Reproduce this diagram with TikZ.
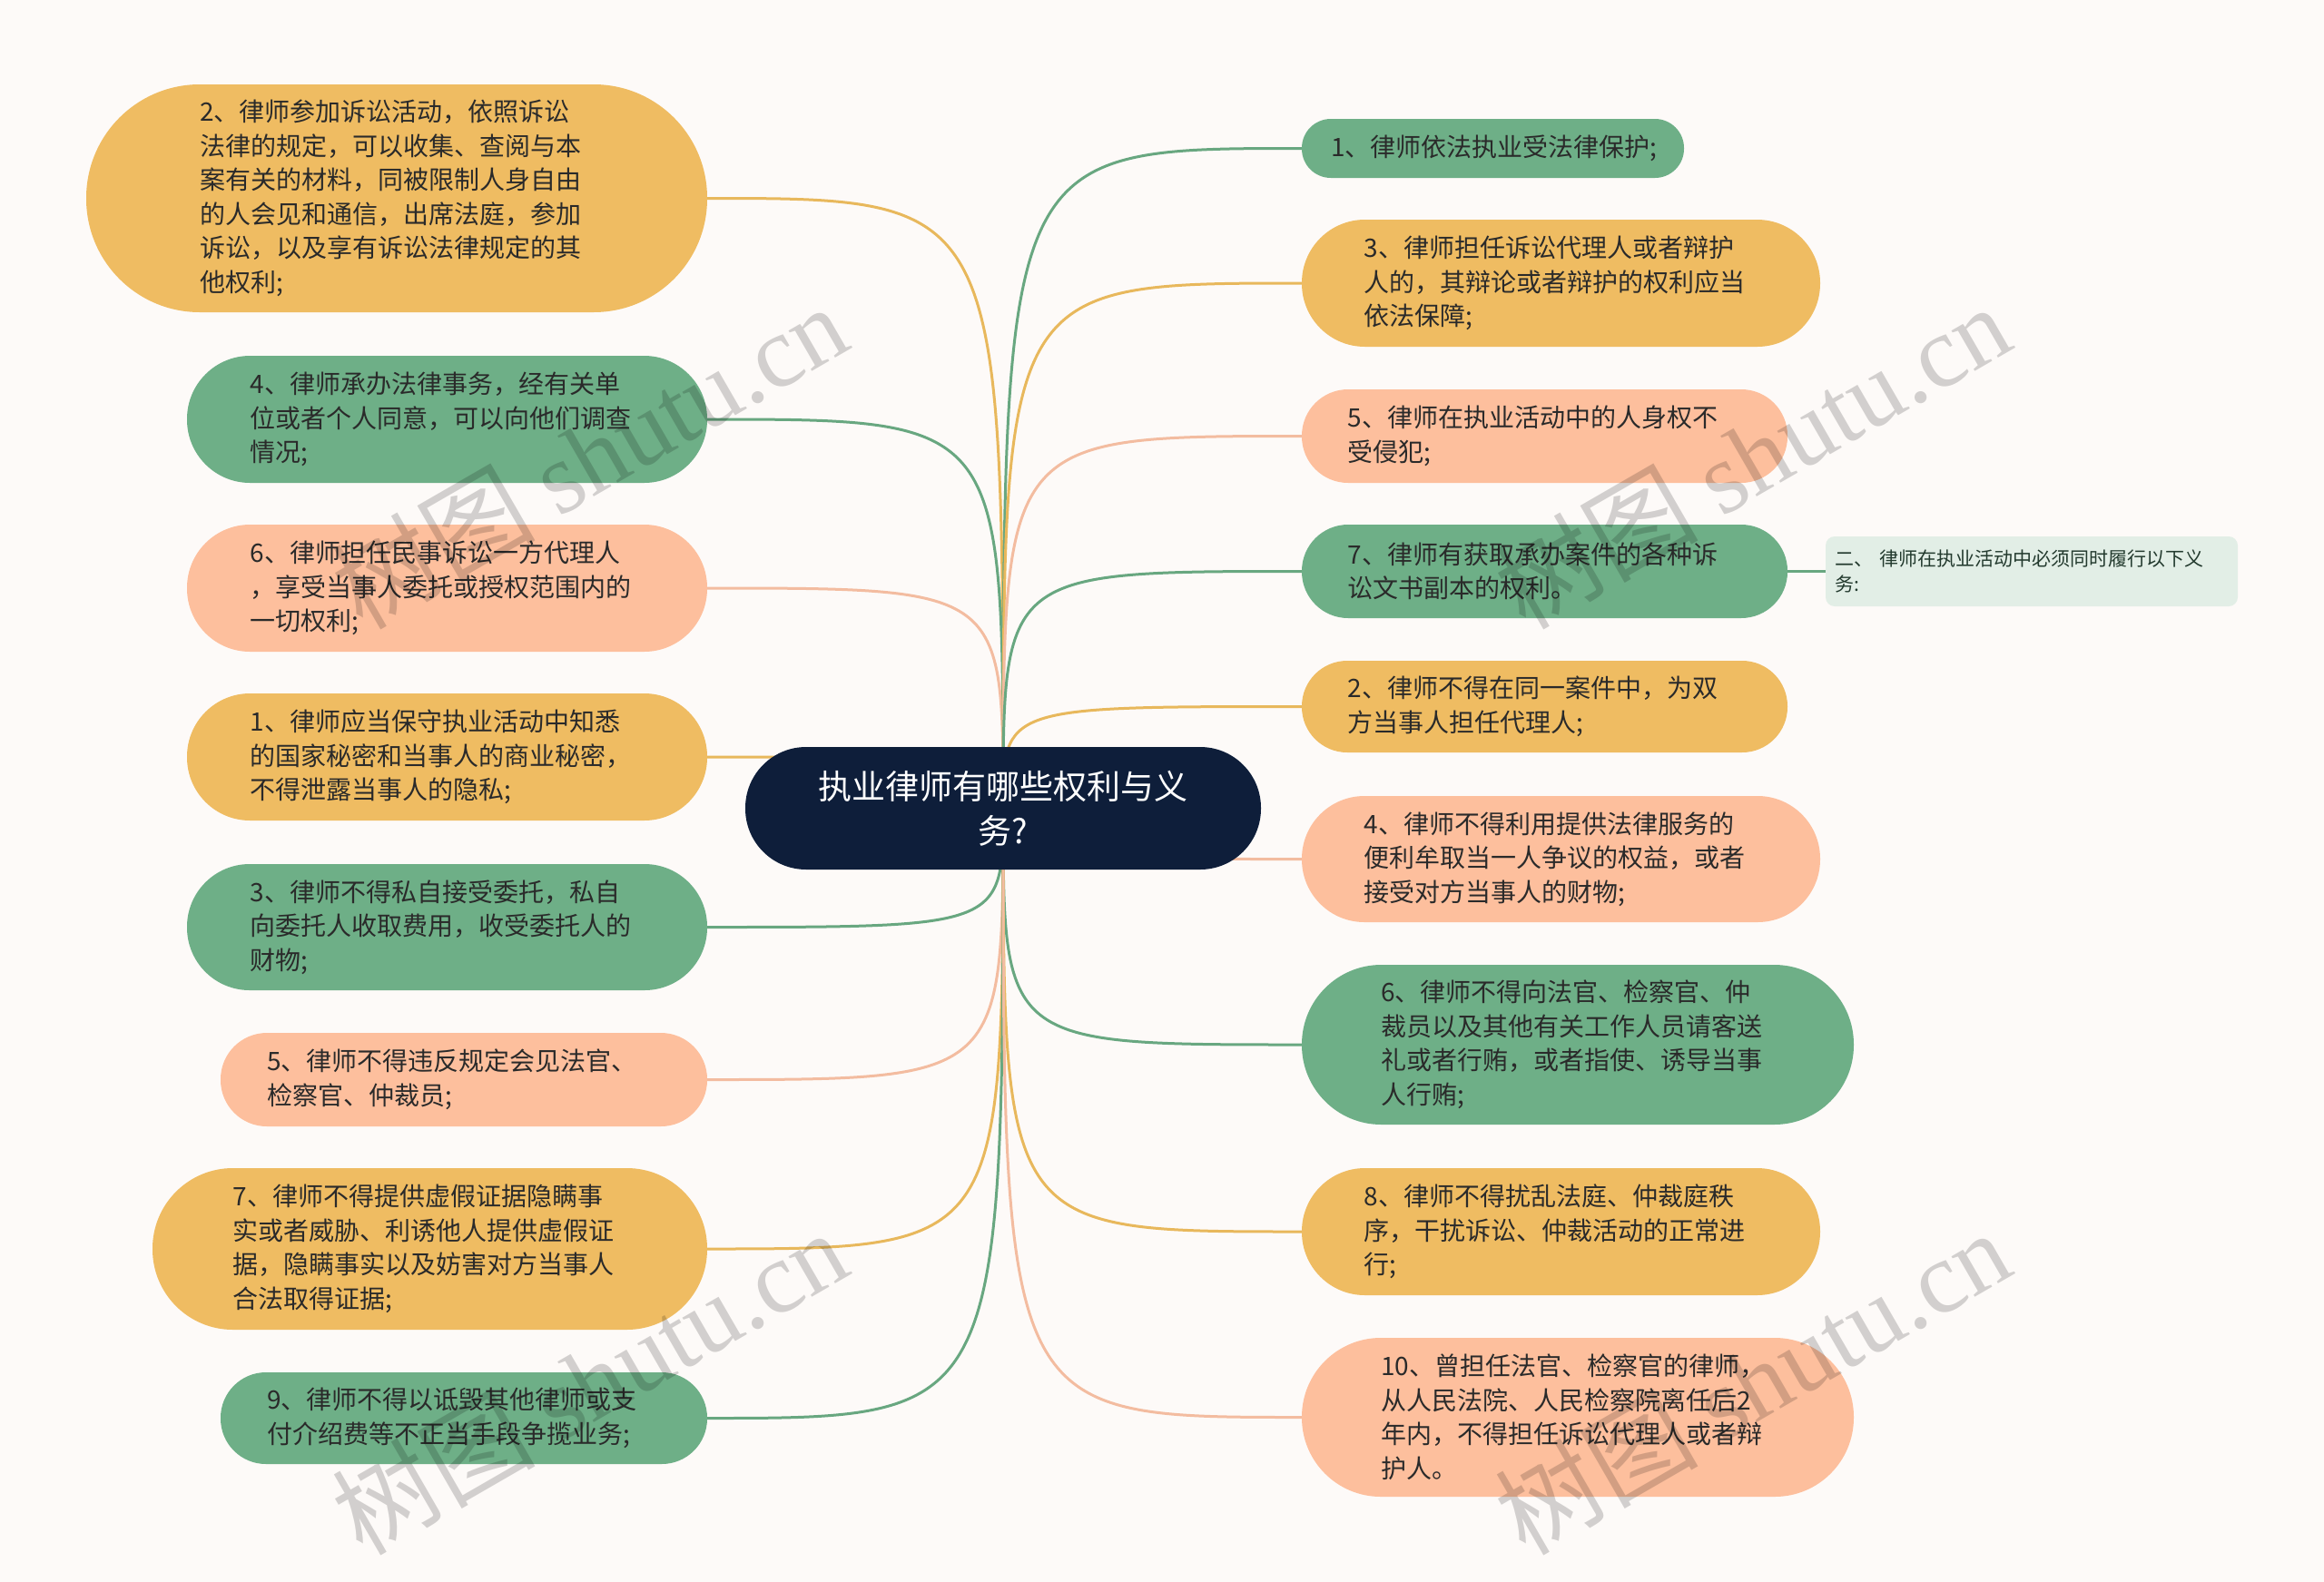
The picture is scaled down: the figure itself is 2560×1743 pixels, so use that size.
\documentclass[tikz,border=0pt]{standalone}
\usepackage{fontspec}
\setmainfont{Noto Sans CJK SC}
\newfontfamily\wmlatin{Liberation Serif}
\definecolor{bg}{HTML}{FDFAF8}
\definecolor{cyel}{HTML}{EFBC62}
\definecolor{cgrn}{HTML}{6EAF87}
\definecolor{csal}{HTML}{FDBF9D}
\definecolor{lyel}{HTML}{E8B85C}
\definecolor{lgrn}{HTML}{68A780}
\definecolor{lsal}{HTML}{F3BCA0}
\definecolor{navy}{HTML}{0E1E3A}
\definecolor{childbg}{HTML}{E2EEE6}
\definecolor{txt}{HTML}{2A2A2A}
\definecolor{childtxt}{HTML}{233A2E}
\tikzset{
  leaf/.style={inner sep=0pt, text width=434pt, align=left, text=txt,
    font=\fontsize{28}{37.5}\selectfont},
  fy/.style={fill=cyel}, fg/.style={fill=cgrn}, fs/.style={fill=csal},
  ey/.style={draw=lyel, line width=3pt},
  eg/.style={draw=lgrn, line width=3pt},
  es/.style={draw=lsal, line width=3pt},
  wmark/.style={text=black, text opacity=0.17, rotate=30,
    font=\fontsize{112}{112}\selectfont}
}
\begin{document}
\begin{tikzpicture}[x=1pt,y=-1pt]
\useasboundingbox[fill=bg] (0,0) rectangle (2560,1743);

% centre
\coordinate (O) at (1105,890.5);

% left leaves
\node[leaf, fy, minimum width=684, minimum height=251, rounded corners=125] (L1) at (437,218.5)
 {2、律师参加诉讼活动，依照诉讼\\法律的规定，可以收集、查阅与本\\案有关的材料，同被限制人身自由\\的人会见和通信，出席法庭，参加\\诉讼，以及享有诉讼法律规定的其\\他权利;};
\node[leaf, fg, minimum width=573, minimum height=140, rounded corners=69.5] (L2) at (492.5,462)
 {4、律师承办法律事务，经有关单\\位或者个人同意，可以向他们调查\\情况;};
\node[leaf, fs, minimum width=573, minimum height=140, rounded corners=69.5] (L3) at (492.5,648)
 {6、律师担任民事诉讼一方代理人\\，享受当事人委托或授权范围内的\\一切权利;};
\node[leaf, fy, minimum width=573, minimum height=140, rounded corners=69.5] (L4) at (492.5,834)
 {1、律师应当保守执业活动中知悉\\的国家秘密和当事人的商业秘密，\\不得泄露当事人的隐私;};
\node[leaf, fg, minimum width=573, minimum height=139, rounded corners=69] (L5) at (492.5,1021.5)
 {3、律师不得私自接受委托，私自\\向委托人收取费用，收受委托人的\\财物;};
\node[leaf, fs, minimum width=536, minimum height=103, rounded corners=51] (L6) at (511,1189.5)
 {5、律师不得违反规定会见法官、\\检察官、仲裁员;};
\node[leaf, fy, minimum width=611, minimum height=178, rounded corners=88.5] (L7) at (473.5,1376)
 {7、律师不得提供虚假证据隐瞒事\\实或者威胁、利诱他人提供虚假证\\据，隐瞒事实以及妨害对方当事人\\合法取得证据;};
\node[leaf, fg, minimum width=536, minimum height=101, rounded corners=50] (L8) at (511,1562.5)
 {9、律师不得以诋毁其他律师或支\\付介绍费等不正当手段争揽业务;};

% right leaves
\node[leaf, fg, text width=357pt, minimum width=421, minimum height=65, rounded corners=32] (R1) at (1644.5,163.5)
 {1、律师依法执业受法律保护;};
\node[leaf, fy, minimum width=571, minimum height=140, rounded corners=69.5] (R2) at (1719.5,312)
 {3、律师担任诉讼代理人或者辩护\\人的，其辩论或者辩护的权利应当\\依法保障;};
\node[leaf, fs, minimum width=535, minimum height=103, rounded corners=51] (R3) at (1701.5,480.5)
 {5、律师在执业活动中的人身权不\\受侵犯;};
\node[leaf, fg, minimum width=535, minimum height=103, rounded corners=51] (R4) at (1701.5,629.5)
 {7、律师有获取承办案件的各种诉\\讼文书副本的权利。};
\node[inner sep=0pt, text width=434pt, align=left, text=childtxt,
  font=\fontsize{21}{28}\selectfont, fill=childbg, rounded corners=10,
  minimum width=454, minimum height=77] (R4a) at (2238,629.5)
 {二、 律师在执业活动中必须同时履行以下义\\务:};
\node[leaf, fy, minimum width=535, minimum height=101, rounded corners=50] (R5) at (1701.5,778.5)
 {2、律师不得在同一案件中，为双\\方当事人担任代理人;};
\node[leaf, fs, minimum width=571, minimum height=139, rounded corners=69] (R6) at (1719.5,946.5)
 {4、律师不得利用提供法律服务的\\便利牟取当一人争议的权益，或者\\接受对方当事人的财物;};
\node[leaf, fg, minimum width=608, minimum height=176, rounded corners=87.5] (R7) at (1738,1151)
 {6、律师不得向法官、检察官、仲\\裁员以及其他有关工作人员请客送\\礼或者行贿，或者指使、诱导当事\\人行贿;};
\node[leaf, fy, minimum width=571, minimum height=140, rounded corners=69.5] (R8) at (1719.5,1357)
 {8、律师不得扰乱法庭、仲裁庭秩\\序，干扰诉讼、仲裁活动的正常进\\行;};
\node[leaf, fs, minimum width=608, minimum height=175, rounded corners=87] (R9) at (1738,1561.5)
 {10、曾担任法官、检察官的律师，\\从人民法院、人民检察院离任后2\\年内，不得担任诉讼代理人或者辩\\护人。};

% connectors
\foreach \n/\s in {L1/ey,L2/eg,L3/es,L4/ey,L5/eg,L6/es,L7/ey,L8/eg}{
  \path[\s] (O) .. controls (O |- \n.east) .. (\n.east);
}
\foreach \n/\s in {R1/eg,R2/ey,R3/es,R4/eg,R5/ey,R6/es,R7/eg,R8/ey,R9/es}{
  \path[\s] (O) .. controls (O |- \n.west) .. (\n.west);
}
\path[eg] (R4.east) -- (R4a.west);

% centre node on top of connectors
\node[fill=navy, rounded corners=67, minimum width=568, minimum height=135,
  inner sep=0pt, text=white, align=center,
  font=\fontsize{37}{49}\selectfont] (C) at (O) {执业律师有哪些权利与义\\务?};

% watermarks
\node[wmark] (W1) at (649,502) {树图 {\wmlatin shutu.cn}};
\node[wmark] (W2) at (1930,502) {树图 {\wmlatin shutu.cn}};
\node[wmark] (W3) at (649,1522) {树图 {\wmlatin shutu.cn}};
\node[wmark] (W4) at (1930,1522) {树图 {\wmlatin shutu.cn}};
\end{tikzpicture}
\end{document}
